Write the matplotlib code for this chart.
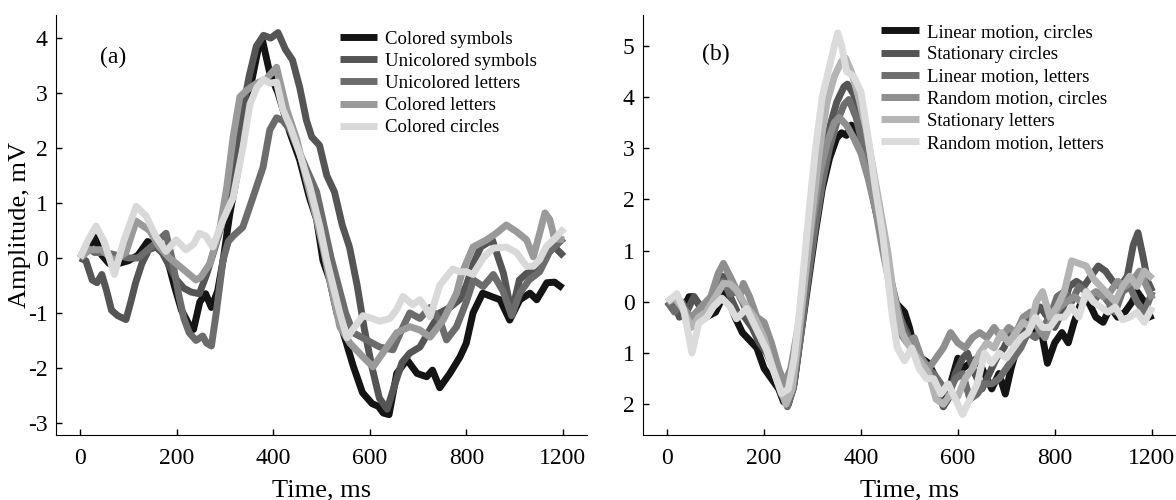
import matplotlib
matplotlib.use("Agg")
import matplotlib.pyplot as plt

plt.rcParams['font.family'] = ['Liberation Serif', 'DejaVu Serif']
plt.rcParams['axes.unicode_minus'] = False

# ---- panel (a) ----
a_labels = ["Colored symbols", "Unicolored symbols", "Unicolored letters",
            "Colored letters", "Colored circles"]
a_colors = ["#141414", "#555555", "#6c6c6c", "#9a9a9a", "#d9d9d9"]

a1_t = [0, 15, 30, 45, 60, 80, 100, 120, 140, 160, 180, 195, 210, 225, 235, 248, 260, 272, 285, 297,
        310, 325, 340, 355, 370, 378, 393, 410, 435, 455, 475, 490, 503, 517, 532, 550, 566, 585, 605,
        618, 628, 640, 656, 677, 698, 718, 730, 745, 766, 787, 800, 814, 834, 852, 870, 890, 911, 932,
        946, 967, 983, 1000]
a1_v = [0, 0.15, 0.38, 0.05, -0.1, -0.1, -0.05, 0.05, 0.3, 0.2, 0.0, -0.5, -0.95, -1.2, -1.3, -0.8,
        -0.65, -0.9, -0.6, 0.0, 0.8, 1.5, 2.3, 3.2, 3.85, 3.95, 3.36, 3.0, 2.27, 1.78, 1.1, 0.7, -0.04,
        -0.4, -1.0, -1.5, -1.97, -2.45, -2.65, -2.7, -2.82, -2.85, -2.1, -1.85, -2.1, -2.16, -2.04,
        -2.36, -2.1, -1.8, -1.55, -1.0, -0.64, -0.7, -0.76, -1.13, -0.76, -0.64, -0.76, -0.45, -0.44,
        -0.55]

a2_t = [0, 12, 25, 35, 45, 55, 65, 78, 95, 105, 115, 128, 142, 157, 170, 185, 200, 215, 230, 247,
        262, 278, 293, 307, 320, 335, 350, 365, 380, 395, 410, 425, 440, 455, 469, 480, 496, 511, 527,
        543, 558, 574, 589, 605, 620, 636, 652, 667, 683, 704, 725, 745, 766, 787, 800, 815, 830, 854,
        877, 894, 910, 925, 947, 960, 971, 983, 1002]
a2_v = [0, -0.05, -0.4, -0.45, -0.3, -0.6, -0.95, -1.05, -1.12, -0.8, -0.45, -0.1, 0.15, 0.2, 0.1,
        -0.15, -0.4, -0.55, -0.62, -0.65, -0.3, 0.15, 0.6, 1.2, 1.9, 2.6, 3.3, 3.85, 4.05, 4.0, 4.1,
        3.8, 3.6, 3.1, 2.5, 2.2, 2.05, 1.5, 1.2, 0.6, 0.2, -0.5, -1.3, -2.0, -2.55, -2.75, -2.3, -1.9,
        -1.73, -1.62, -1.3, -1.0, -0.9, -0.75, -0.5, -0.1, 0.2, 0.33, -0.28, -1.0, -0.4, -0.28, -0.2,
        0.0, 0.1, 0.2, 0.03]

a3_t = [0, 12, 30, 54, 75, 100, 120, 140, 160, 178, 190, 205, 215, 226, 240, 254, 262, 272, 282, 296,
        307, 317, 337, 358, 379, 393, 407, 420, 435, 455, 470, 490, 505, 520, 535, 550, 566, 593, 621,
        648, 669, 683, 704, 725, 745, 759, 780, 800, 815, 835, 856, 876, 894, 911, 930, 952, 973, 1002]
a3_v = [0, 0.2, 0.1, 0.1, 0.05, 0.0, 0.0, 0.15, 0.3, 0.45, 0.0, -0.7, -1.1, -1.36, -1.5, -1.42, -1.55,
        -1.6, -1.0, -0.04, 0.3, 0.4, 0.56, 1.1, 1.65, 2.33, 2.55, 2.5, 2.33, 1.9, 1.6, 1.2, 0.6, 0.0,
        -0.5, -1.0, -1.36, -1.49, -1.62, -1.67, -1.25, -1.0, -1.1, -0.9, -1.13, -1.49, -1.25, -0.8,
        -0.4, -0.52, -0.3, -0.6, -1.05, -0.64, -0.4, -0.25, 0.12, 0.36]

a4_t = [0, 20, 45, 70, 95, 116, 144, 164, 185, 213, 240, 250, 269, 290, 304, 317, 331, 345, 366, 385,
        395, 407, 428, 449, 469, 490, 503, 517, 532, 538, 559, 586, 607, 627, 656, 683, 704, 725, 752,
        780, 790, 814, 842, 862, 883, 904, 925, 939, 952, 963, 973, 983, 1003]
a4_v = [0, 0.15, 0.15, -0.05, 0.1, 0.67, 0.5, 0.2, 0.0, -0.2, -0.4, -0.35, -0.1, 0.56, 1.3, 2.2, 2.93,
        3.05, 3.18, 3.25, 3.35, 3.47, 2.7, 2.15, 1.42, 0.7, 0.2, -0.4, -1.0, -1.25, -1.55, -1.8, -1.98,
        -1.73, -1.36, -1.25, -1.31, -1.44, -1.13, -0.64, -0.3, 0.2, 0.33, 0.45, 0.6, 0.48, 0.33, 0.02,
        0.45, 0.82, 0.7, 0.35, 0.33]

a5_t = [0, 15, 33, 50, 71, 90, 116, 137, 157, 178, 199, 219, 235, 247, 260, 275, 296, 317, 337, 352,
        366, 380, 393, 407, 420, 435, 455, 476, 497, 511, 524, 538, 553, 565, 586, 605, 621, 642, 655,
        669, 689, 704, 715, 725, 745, 758, 772, 787, 800, 814, 835, 856, 883, 904, 925, 939, 952, 966,
        983, 1003]
a5_v = [0, 0.3, 0.58, 0.3, -0.3, 0.3, 0.94, 0.76, 0.39, 0.12, 0.33, 0.15, 0.25, 0.45, 0.4, 0.2, 0.69,
        1.1, 2.0, 2.8, 3.1, 3.25, 3.18, 3.2, 2.7, 2.4, 1.9, 1.3, 0.56, -0.04, -0.5, -1.0, -1.45, -1.3,
        -1.05, -1.1, -1.15, -1.1, -0.95, -0.7, -0.85, -0.76, -0.9, -1.07, -0.5, -0.35, -0.2, -0.25,
        -0.25, -0.3, 0.0, 0.18, 0.2, 0.1, -0.15, -0.15, -0.03, 0.21, 0.35, 0.54]

# ---- panel (b) ----
b_labels = ["Linear motion, circles", "Stationary circles", "Linear motion, letters",
            "Random motion, circles", "Stationary letters", "Random motion, letters"]
b_colors = ["#141414", "#555555", "#6e6e6e", "#8f8f8f", "#b4b4b4", "#dbdbdb"]

b1_t = [0, 15, 30, 45, 55, 65, 80, 100, 120, 140, 155, 170, 185, 200, 215, 230, 240, 250, 262, 275,
        290, 305, 320, 335, 350, 360, 370, 380, 390, 400, 415, 430, 445, 460, 470, 480, 490, 500, 510,
        525, 540, 555, 570, 585, 600, 610, 625, 640, 655, 670, 685, 698, 710, 722, 735, 748, 760, 775,
        785, 800, 815, 828, 840, 855, 870, 885, 900, 915, 930, 945, 960, 970, 985, 1000]
b1_v = [0, -0.15, -0.2, 0.1, 0.1, -0.05, -0.3, -0.2, 0.2, -0.3, -0.6, -0.75, -0.9, -1.3, -1.5, -1.7,
        -1.95, -2.0, -1.6, -0.7, 0.3, 1.3, 2.2, 2.8, 3.2, 3.3, 3.25, 3.45, 3.3, 3.0, 2.5, 1.8, 1.2, 0.5,
        0.0, -0.1, -0.2, -0.5, -0.9, -1.1, -1.2, -1.5, -1.85, -1.6, -1.1, -1.3, -1.2, -1.1, -1.4, -1.7,
        -1.4, -1.8, -1.3, -0.9, -0.7, -0.6, -0.5, -0.7, -1.2, -0.8, -0.6, -0.8, -0.4, 0.0, 0.0, -0.3,
        -0.4, -0.1, -0.3, -0.2, 0.0, 0.2, 0.0, -0.35]

b2_t = [0, 12, 25, 40, 55, 70, 85, 100, 115, 130, 145, 160, 175, 190, 205, 220, 235, 248, 260, 275,
        290, 305, 320, 335, 350, 365, 372, 385, 400, 415, 430, 445, 460, 470, 480, 495, 510, 525, 540,
        555, 570, 580, 595, 610, 620, 635, 650, 665, 680, 695, 710, 725, 740, 755, 770, 785, 800, 815,
        830, 845, 860, 875, 890, 905, 920, 935, 950, 962, 972, 982, 992, 1002]
b2_v = [0, 0.05, -0.3, -0.2, 0.1, -0.1, -0.2, 0.1, 0.5, 0.1, -0.2, -0.3, -0.5, -0.8, -1.0, -1.3, -1.8,
        -2.0, -1.7, -0.6, 0.5, 1.6, 2.6, 3.4, 3.9, 4.2, 4.25, 4.05, 3.4, 2.7, 2.0, 1.3, 0.5, 0.0, -0.3,
        -0.6, -1.0, -1.1, -1.4, -1.7, -2.05, -1.9, -1.4, -1.1, -1.0, -1.4, -1.7, -1.4, -1.1, -0.9, -0.6,
        -0.7, -0.4, -0.3, -0.1, -0.3, -0.5, -0.2, 0.3, 0.4, 0.3, 0.5, 0.7, 0.6, 0.4, 0.3, 0.5, 1.1, 1.35,
        0.9, 0.4, 0.2]

b3_t = [0, 15, 30, 50, 65, 80, 100, 115, 130, 145, 160, 175, 190, 205, 220, 235, 248, 260, 275, 290,
        305, 320, 335, 350, 365, 375, 390, 405, 420, 435, 450, 465, 478, 490, 505, 520, 535, 550, 565,
        580, 595, 610, 625, 640, 655, 670, 685, 700, 715, 730, 745, 760, 775, 790, 805, 820, 835, 850,
        865, 880, 895, 910, 925, 940, 955, 970, 985, 1002]
b3_v = [0, -0.2, 0.0, -0.4, -0.3, -0.2, 0.3, 0.4, 0.15, 0.2, -0.1, -0.4, -0.6, -0.8, -1.2, -1.6,
        -2.05, -1.7, -0.7, 0.4, 1.4, 2.3, 3.0, 3.5, 3.85, 3.95, 3.6, 3.0, 2.3, 1.6, 0.9, 0.3, -0.2, -0.6,
        -0.8, -1.05, -1.3, -1.4, -1.6, -1.8, -1.5, -1.4, -1.9, -1.8, -1.6, -1.6, -1.5, -1.3, -1.1, -0.9,
        -0.6, -0.7, -0.5, -0.3, 0.1, 0.2, 0.0, 0.3, 0.2, 0.0, 0.2, 0.0, -0.2, 0.2, 0.3, 0.0, -0.2, 0.2]

b4_t = [0, 15, 30, 50, 70, 90, 105, 116, 130, 150, 157, 170, 185, 200, 215, 230, 242, 255, 270, 285,
        300, 315, 330, 345, 355, 370, 385, 400, 415, 430, 445, 460, 470, 480, 495, 510, 525, 540, 555,
        570, 585, 600, 615, 630, 645, 660, 675, 690, 705, 720, 735, 750, 765, 780, 795, 810, 825, 840,
        855, 870, 885, 900, 915, 930, 945, 960, 975, 990, 1002]
b4_v = [0, 0.05, -0.1, -0.3, -0.1, 0.1, 0.55, 0.75, 0.49, 0.1, 0.36, 0.1, -0.3, -0.4, -0.8, -1.3,
        -1.6, -1.3, -0.5, 0.6, 1.6, 2.5, 3.1, 3.5, 3.6, 3.45, 3.2, 2.9, 2.4, 1.8, 1.0, 0.3, -0.1, -0.6,
        -0.8, -0.7, -1.1, -1.3, -1.1, -0.9, -0.6, -0.8, -0.9, -0.7, -0.6, -0.7, -0.5, -0.7, -0.5, -0.6,
        -0.3, -0.2, -0.5, -0.7, -0.3, -0.1, 0.0, 0.1, 0.0, 0.1, 0.2, 0.1, 0.2, 0.4, 0.3, 0.4, 0.6, 0.3,
        0.05]

b5_t = [0, 15, 30, 50, 65, 80, 100, 116, 130, 143, 164, 180, 200, 215, 230, 245, 258, 270, 285, 300,
        315, 330, 345, 360, 368, 380, 395, 410, 425, 440, 455, 465, 475, 485, 495, 510, 525, 540, 555,
        570, 585, 600, 615, 630, 645, 660, 675, 690, 705, 720, 735, 750, 762, 775, 790, 805, 820, 835,
        850, 865, 880, 895, 910, 925, 940, 955, 970, 985, 1002]
b5_v = [0, 0.1, -0.1, -0.5, -0.3, -0.2, 0.1, 0.36, 0.35, 0.23, -0.1, -0.3, -0.7, -1.2, -1.6, -2.0,
        -1.7, -0.8, 0.5, 1.8, 3.0, 3.9, 4.4, 4.7, 4.76, 4.5, 4.0, 3.4, 2.6, 1.8, 1.0, 0.3, -0.2, -0.6,
        -0.8, -1.0, -1.2, -1.4, -1.9, -2.0, -1.8, -1.85, -1.5, -1.3, -1.0, -0.8, -0.9, -0.6, -0.8, -0.6,
        -0.4, -0.5, 0.0, 0.2, -0.3, -0.1, 0.2, 0.8, 0.75, 0.7, 0.45, 0.3, 0.15, 0.0, 0.3, 0.5, 0.3, 0.6,
        0.45]

b6_t = [0, 20, 34, 51, 65, 82, 95, 113, 130, 143, 164, 185, 205, 219, 236, 250, 262, 275, 290, 305,
        320, 335, 345, 352, 360, 370, 385, 400, 415, 430, 445, 455, 465, 475, 490, 505, 520, 535, 550,
        565, 580, 595, 610, 625, 640, 655, 670, 685, 700, 715, 730, 745, 760, 775, 790, 805, 820, 835,
        850, 865, 880, 895, 910, 925, 940, 955, 970, 985, 1002]
b6_v = [0, 0.16, -0.16, -1.0, -0.42, -0.3, -0.1, 0.07, -0.1, -0.33, -0.13, -0.55, -0.94, -1.34, -1.79,
        -1.7, -1.1, 0.0, 1.5, 2.9, 4.0, 4.6, 5.0, 5.25, 5.0, 4.5, 4.4, 4.1, 3.2, 2.2, 1.3, 0.5, -0.3,
        -0.9, -1.15, -0.9, -1.3, -1.5, -1.5, -1.8, -1.6, -1.9, -2.2, -1.9, -1.6, -1.0, -1.2, -1.0, -1.1,
        -0.9, -0.7, -0.6, -0.3, -0.5, -0.5, -0.3, -0.3, -0.1, -0.3, 0.2, 0.0, -0.1, -0.2, -0.1, -0.35,
        -0.3, -0.2, -0.4, -0.1]

xticks = [0, 200, 400, 600, 800, 1000]
xtick_labels = ["0", "200", "400", "600", "800", "1200"]
a_yticks = [-3, -2, -1, 0, 1, 2, 3, 4]
a_ytick_labels = ["-3", "-2", "-1", "0", "1", "2", "3", "4"]
b_yticks = [-2, -1, 0, 1, 2, 3, 4, 5]
b_ytick_labels = ["2", "1", "0", "1", "2", "3", "4", "5"]

fig = plt.figure(figsize=(11.76, 5.0), dpi=100)
ax1 = fig.add_axes([0.0476, 0.13, 0.4515, 0.84])
ax2 = fig.add_axes([0.5468, 0.13, 0.453, 0.84])

a_series = [(a1_t, a1_v), (a2_t, a2_v), (a3_t, a3_v), (a4_t, a4_v), (a5_t, a5_v)]
b_series = [(b1_t, b1_v), (b2_t, b2_v), (b3_t, b3_v), (b4_t, b4_v), (b5_t, b5_v), (b6_t, b6_v)]

for (t, v), lab, col in zip(a_series, a_labels, a_colors):
    ax1.plot(t, v, color=col, lw=5, label=lab, solid_joinstyle='round', solid_capstyle='butt')
for (t, v), lab, col in zip(b_series, b_labels, b_colors):
    ax2.plot(t, v, color=col, lw=5, label=lab, solid_joinstyle='round', solid_capstyle='butt')

for ax in (ax1, ax2):
    ax.set_xlim(-50, 1050)
    ax.set_xticks(xticks)
    ax.set_xticklabels(xtick_labels)
    ax.spines['top'].set_visible(False)
    ax.spines['right'].set_visible(False)
    ax.tick_params(direction='in', length=4, width=1, labelsize=17)
    ax.tick_params(axis='x', pad=9)
    ax.tick_params(axis='y', pad=6)
    ax.set_xlabel("Time, ms", fontsize=19, labelpad=8)

ax1.set_ylim(-3.22, 4.42)
ax1.set_yticks(a_yticks)
ax1.set_yticklabels(a_ytick_labels)
ax1.set_ylabel("Amplitude, mV", fontsize=19, labelpad=-2)
ax2.set_ylim(-2.6, 5.6)
ax2.set_yticks(b_yticks)
ax2.set_yticklabels(b_ytick_labels)

ax1.text(0.107, 0.9, "(a)", transform=ax1.transAxes, fontsize=17, ha='center', va='center')
ax2.text(0.137, 0.905, "(b)", transform=ax2.transAxes, fontsize=17, ha='center', va='center')

for ax, x0, y0 in ((ax1, 0.527, 0.972), (ax2, 0.44, 0.988)):
    ax.legend(loc='upper left', bbox_to_anchor=(x0, y0), frameon=False, fontsize=13.5,
              handlelength=2.0, handletextpad=0.45, labelspacing=0.27, borderpad=0.2,
              borderaxespad=0)

fig.savefig("out.png", dpi=100)
